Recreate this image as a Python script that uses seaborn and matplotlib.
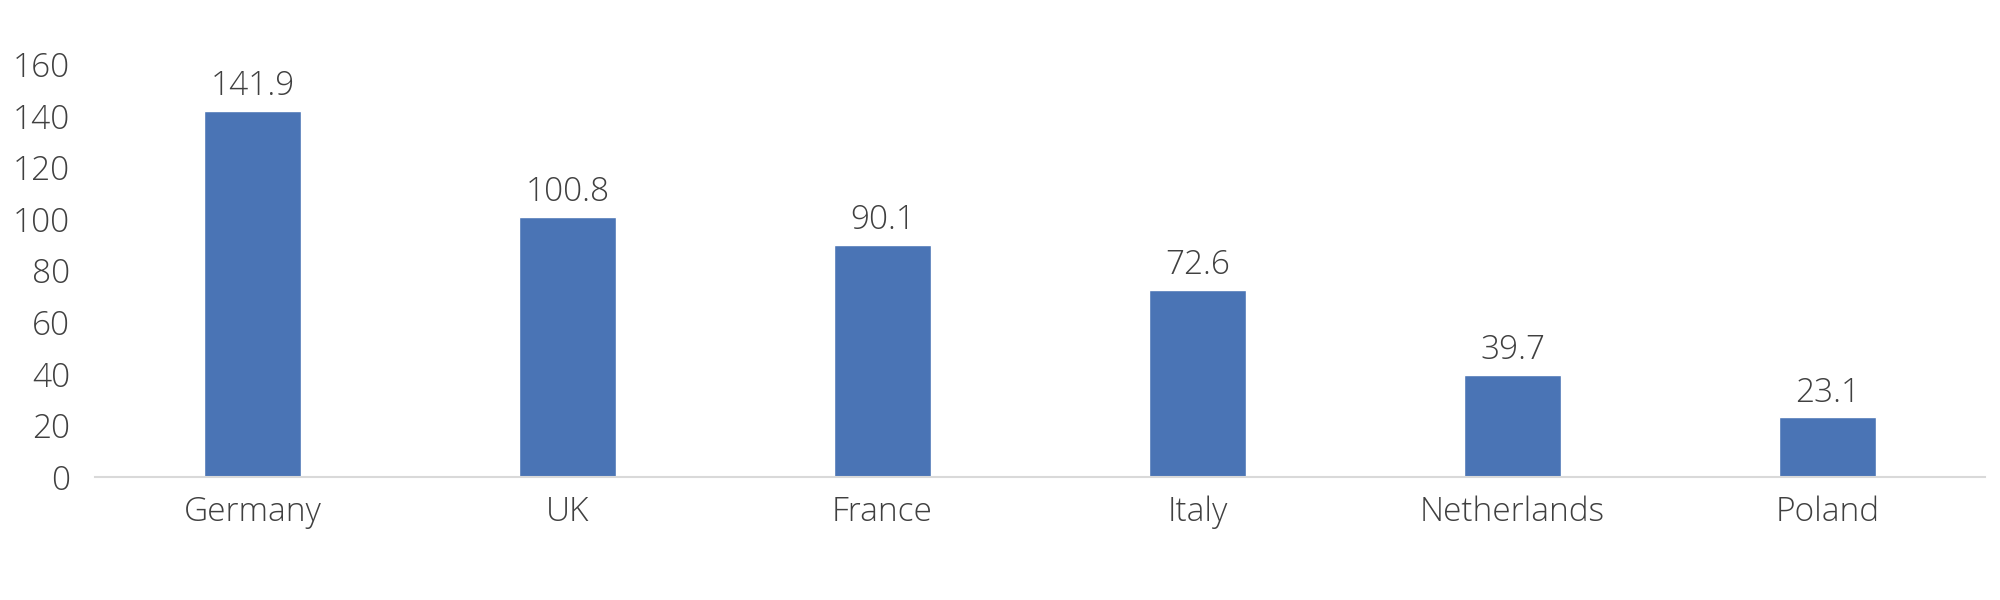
import matplotlib
matplotlib.use("Agg")
import matplotlib.pyplot as plt
import seaborn as sns
import pandas as pd

countries = ["Germany", "UK", "France", "Italy", "Netherlands", "Poland"]
values = [141.9, 100.8, 90.1, 72.6, 39.7, 23.1]
y_ticks = [0, 20, 40, 60, 80, 100, 120, 140, 160]

BAR_COLOR = "#4A74B5"
TEXT_COLOR = "#404040"

sns.set_theme(style="white")
plt.rcParams["font.family"] = ["Open Sans", "DejaVu Sans"]

df = pd.DataFrame({"country": countries, "value": values})

fig = plt.figure(figsize=(20, 6), dpi=100)
ax = fig.add_axes([0.0475, 0.205, 0.945, 0.688])

sns.barplot(data=df, x="country", y="value", color=BAR_COLOR,
            saturation=1, width=0.31, ax=ax)

for p, v in zip(ax.patches, values):
    ax.text(p.get_x() + p.get_width() / 2, p.get_height() + 3, f"{v:.1f}",
            ha="center", va="bottom", fontsize=24, color=TEXT_COLOR,
            fontweight=300)

ax.set_ylim(0, 160)
ax.set_xlim(-0.5, len(countries) - 0.5)
ax.set_yticks(y_ticks)
ax.set_xlabel("")
ax.set_ylabel("")

for s in ["top", "right", "left"]:
    ax.spines[s].set_visible(False)
ax.spines["bottom"].set_color("#d9d9d9")
ax.spines["bottom"].set_linewidth(1.5)

ax.tick_params(axis="y", length=0, pad=18, labelsize=24, labelcolor=TEXT_COLOR)
ax.tick_params(axis="x", length=0, pad=13, labelsize=24, labelcolor=TEXT_COLOR)
for lbl in ax.get_xticklabels() + ax.get_yticklabels():
    lbl.set_fontweight(300)

fig.savefig("out.png", dpi=100)
plt.close(fig)
